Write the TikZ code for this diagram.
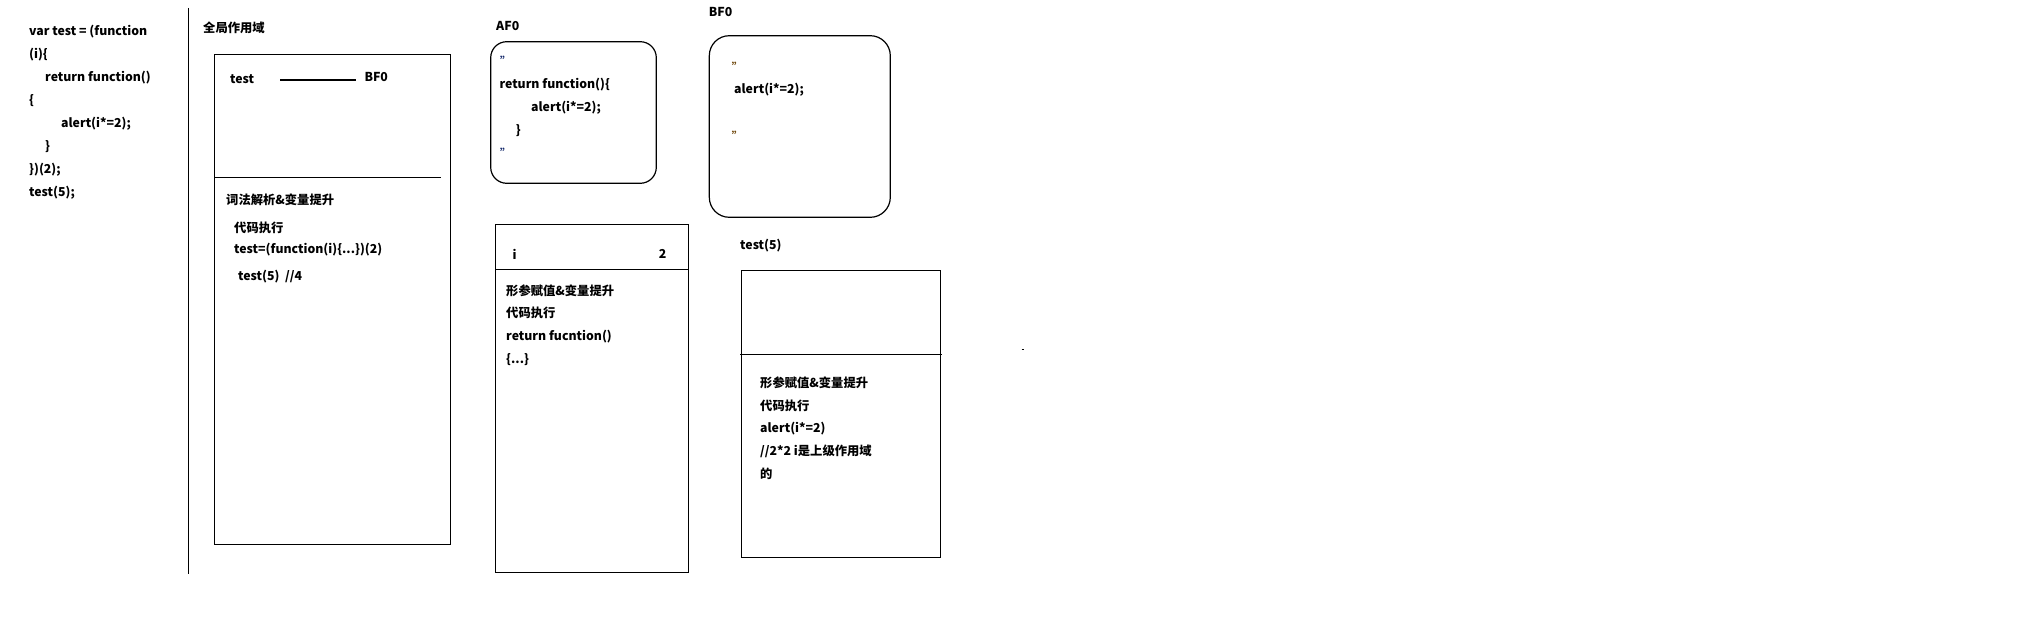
\documentclass[tikz,border=0pt]{standalone}
\usepackage{fontspec}
\setmainfont{Noto Sans CJK SC}
\usepackage{xcolor}
\definecolor{quoteA}{RGB}{25,45,110}
\definecolor{quoteB}{RGB}{110,70,10}

\tikzset{
  txt/.style={anchor=west,inner sep=0pt,font=\bfseries\fontsize{12.3}{14}\selectfont},
  qmark/.style={anchor=west,inner sep=0pt,font=\bfseries\fontsize{11}{12}\selectfont},
  frame/.style={line width=1.2pt},
}

\begin{document}
\begin{tikzpicture}[x=1pt,y=-1pt]
\useasboundingbox (0,0) rectangle (2044,644);

% source code
\node[txt] (c1) at (29,31.7) {var test = (function};
\node[txt] (c2) at (29,55) {(i)\{};
\node[txt] (c3) at (45,77.7) {return function()};
\node[txt] (c4) at (29,101) {\{};
\node[txt] (c5) at (61,123.7) {alert(i*=2);};
\node[txt] (c6) at (45,146.7) {\}};
\node[txt] (c7) at (29,170) {\})(2);};
\node[txt] (c8) at (29,192.7) {test(5);};

\draw[frame] (188.3,8) -- (188.3,573.7);

% global scope
\node[txt] (gtitle) at (203,28.3) {全局作用域};
\draw[frame] (214.3,54.3) rectangle (450.3,544.3);
\draw[frame] (214.3,177.3) -- (441,177.3);
\node[txt] (gtest) at (230,78.7) {test};
\node[txt] (gref) at (364.3,76.7) {BF0};
\draw[frame] ([xshift=26pt]gtest.east |- 0,80) -- ([xshift=-8.6pt]gref.west |- 0,80);
\node[txt] (g1) at (226,199.3) {词法解析\&变量提升};
\node[txt] (g2) at (234,227.7) {代码执行};
\node[txt] (g3) at (234,250) {test=(function(i)\{...\})(2)};
\node[txt] (g4) at (238,276.7) {test(5)\ \ //4};

% AF0
\node[txt] (atitle) at (496,26) {AF0};
\draw[frame,rounded corners=16pt] (490.7,41.7) rectangle (656.3,183.3);
\node[qmark,text=quoteA] (aq1) at (500,61) {"};
\node[txt] (a1) at (499.3,84.3) {return function()\{};
\node[txt] (a2) at (531,107.7) {alert(i*=2);};
\node[txt] (a3) at (515.7,131) {\}};
\node[qmark,text=quoteA] (aq2) at (500,152.7) {"};

% BF0
\node[txt] (btitle) at (708.7,12.3) {BF0};
\draw[frame,rounded corners=20pt] (709.3,35.7) rectangle (890.3,217.3);
\node[qmark,text=quoteB] (bq1) at (731.7,66.7) {"};
\node[txt] (b1) at (734,90) {alert(i*=2);};
\node[qmark,text=quoteB] (bq2) at (731.7,136) {"};

% AF0 scope
\draw[frame] (495.3,224.3) rectangle (688.7,572.3);
\draw[frame] (495.3,269.3) -- (688.7,269.3);
\node[txt] (ai) at (512.3,254.3) {i};
\node[txt] (av) at (658.7,254.3) {2};
\node[txt] (s1) at (506,290.7) {形参赋值\&变量提升};
\node[txt] (s2) at (506,313.3) {代码执行};
\node[txt] (s3) at (506,336.7) {return fucntion()};
\node[txt] (s4) at (506,360) {\{...\}};

% test(5) scope
\node[txt] (ttitle) at (740,245.7) {test(5)};
\draw[frame] (741.3,270.7) rectangle (940.3,557.3);
\draw[frame] (740.3,354.3) -- (941.7,354.3);
\node[txt] (t1) at (760,382.3) {形参赋值\&变量提升};
\node[txt] (t2) at (760,405.7) {代码执行};
\node[txt] (t3) at (760,428.3) {alert(i*=2)};
\node[txt] (t4) at (760,451.7) {//2*2 i是上级作用域};
\node[txt] (t5) at (760,474.3) {的};

\draw[frame] (1021.5,349.3) -- (1023.5,349.3);
\end{tikzpicture}
\end{document}
